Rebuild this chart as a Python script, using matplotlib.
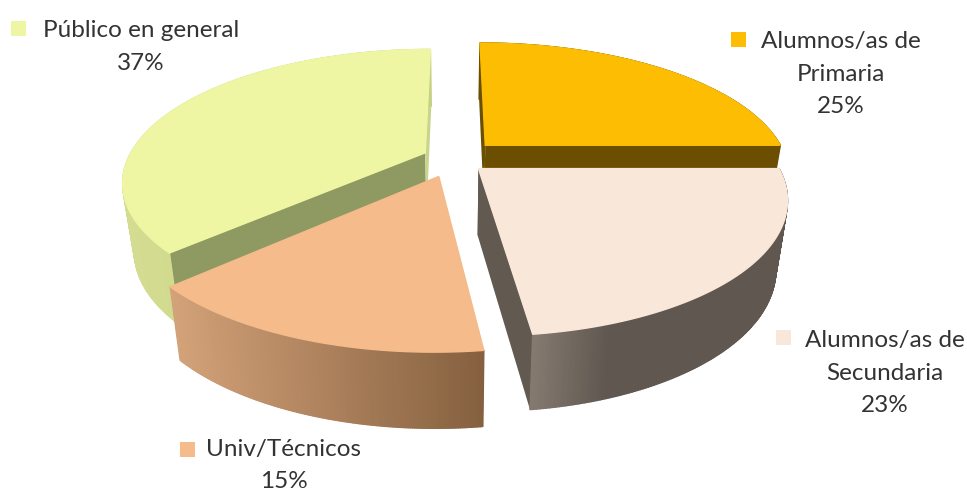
import matplotlib
matplotlib.use('Agg')
import matplotlib.pyplot as plt
from matplotlib.collections import PolyCollection
from matplotlib.colors import to_rgb
from matplotlib.patches import Polygon, Rectangle
import numpy as np

plt.rcParams['font.family'] = ['Lato', 'DejaVu Sans']

# Slices, clockwise from 12 o'clock
names = [['Alumnos/as de', 'Primaria'], ['Alumnos/as de', 'Secundaria'],
    ['Univ/Técnicos'], ['Público en general']]
values = [25, 23, 15, 37]

top_colors = ['#FCBD02', '#F9E7D9', '#F5BB8A', '#EEF6A3']
# cut face at the start of the slice, then at its end
start_colors = ['#6B4E00', '#625950', '#8A6A4A', '#8F9A63']
end_colors = ['#6B4E00', '#625950', '#8A6A4A', '#C9D48C']
wall_left = ['#6B4E00', '#857A70', '#D3A279', '#D3DC90']
wall_right = ['#6B4E00', '#5F5750', '#85603F', '#C6D184']

# How far each slice is pulled out of the pie, on the unit disk, and its radius
offsets = [(0.102, 0.100), (0.076, -0.080), (-0.052, -0.138), (-0.099, 0.040)]
sizes = [0.995, 0.975, 0.99, 0.98]

# Label baseline (pixels) and legend key position
label_x = [841, 885, 284, 141]
label_y = [48, 347, 456, 37]
line_gap = 32.5
key_x = [731, 776, 180, 11]
key_y = [32, 330, 442, 21]

# Projection of the tilted disk to pixels
cx, cy, rx, ry, persp = 455, 158, 303, 130, 0.217


def project(u, v):
    w = 1 + persp * v
    return cx + rx * u / w, cy - ry * v / w


def project_low(u, v):
    # same point on the underside of the pie
    x, y = project(u, v)
    return cx + (x - cx) * 0.965, y + 66 - 9 * v


def blend(a, b, t):
    a, b = np.array(to_rgb(a)), np.array(to_rgb(b))
    return tuple(a + (b - a) * t)


fig = plt.figure(figsize=(9.67, 4.91), dpi=100)
ax = fig.add_axes([0, 0, 1, 1])
ax.set_xlim(0, 967)
ax.set_ylim(491, 0)
ax.axis('off')

ends = 90 - np.cumsum(values) * 3.6
starts = np.concatenate([[90], ends[:-1]])

# Paint back to front: Primaria, Público, Univ, Secundaria
for i in [0, 3, 2, 1]:
    du, dv = offsets[i]
    theta = np.radians(np.linspace(starts[i], ends[i], 160))
    u = sizes[i] * np.cos(theta) + du
    v = sizes[i] * np.sin(theta) + dv
    xt, yt = project(u, v)
    xb, yb = project_low(u, v)
    ax_, ay_ = project(du, dv)
    bx_, by_ = project_low(du, dv)

    # the two cut faces
    for k, color in [(0, start_colors[i]), (-1, end_colors[i])]:
        ax.add_patch(Polygon([(ax_, ay_), (xt[k], yt[k]), (xb[k], yb[k]),
            (bx_, by_)], facecolor=color, edgecolor='none'))

    # outer wall, in thin strips for the shading
    quads = []
    shades = []
    for j in range(len(theta) - 1):
        quads.append([(xt[j], yt[j]), (xt[j + 1], yt[j + 1]),
            (xb[j + 1], yb[j + 1]), (xb[j], yb[j])])
        t = (np.mean(xt[j:j + 2]) - xt.min()) / (xt.max() - xt.min())
        if i == 1:
            t = min(t / 0.3, 1)
        shades.append(blend(wall_left[i], wall_right[i], t))
    ax.add_collection(PolyCollection(quads, facecolors=shades,
        edgecolors=shades, linewidths=1.0))

    # top face
    ax.add_patch(Polygon(np.column_stack([np.r_[ax_, xt], np.r_[ay_, yt]]),
        facecolor=top_colors[i], edgecolor=top_colors[i], linewidth=1.0))

for i in range(len(values)):
    lines = names[i] + [f'{values[i]}%']
    for n, line in enumerate(lines):
        ax.text(label_x[i], label_y[i] + n * line_gap, line, fontsize=17.5,
            color='#333333', ha='center', va='baseline')
    ax.add_patch(Rectangle((key_x[i], key_y[i]), 15, 15,
        facecolor=top_colors[i], edgecolor='none'))

fig.savefig('out.png', dpi=100)
plt.close(fig)
